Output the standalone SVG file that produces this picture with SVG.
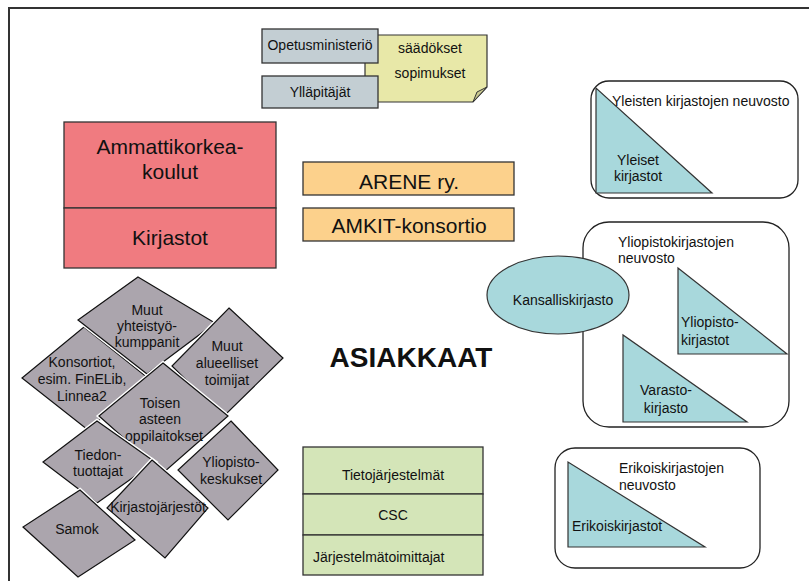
<svg xmlns="http://www.w3.org/2000/svg" width="809" height="581" viewBox="0 0 809 581">
<style>
text{font-family:"Liberation Sans",Arial,sans-serif;fill:#111;}
.s14{font-size:14px;}
.s21{font-size:21px;}
.m{text-anchor:middle;}
.box{stroke:#333;stroke-width:1.3;}
.gray{fill:#c3ced3;}
.pink{fill:#f07b80;}
.orange{fill:#fcd18c;}
.green{fill:#d4e5b8;}
.teal{fill:#a8d8dc;stroke:#333;stroke-width:1.2;}
.round{fill:#fff;stroke:#222;stroke-width:1.3;}
.halo{fill:none;stroke:#fff;stroke-width:4;stroke-linejoin:miter;}
.dia{fill:#aba5ad;stroke:#111;stroke-width:1.2;}
</style>
<rect width="809" height="581" fill="#fff"/>
<path d="M9,581 V8 H809" fill="none" stroke="#333" stroke-width="2"/>

<g id="note">
<polygon points="365,35 487,35 487,87 473,102 365,102" fill="#e8e8a8" stroke="#333" stroke-width="1.2"/>
<polygon points="473,102 477,92 487,87" fill="#c8c890" stroke="#333" stroke-width="1"/>
<text class="s14 m" x="430" y="53">säädökset</text>
<text class="s14 m" x="430" y="78">sopimukset</text>
</g>
<g id="opetusministerio">
<rect class="box gray" x="262" y="29" width="116" height="34"/>
<text class="s14 m" x="320" y="50">Opetusministeriö</text>
</g>
<g id="yllapitajat">
<rect class="box gray" x="262" y="76" width="116" height="32"/>
<text class="s14 m" x="320" y="97">Ylläpitäjät</text>
</g>

<g id="amk">
<rect class="box pink" x="64" y="122" width="212" height="86"/>
<text class="s21 m" x="170" y="154">Ammattikorkea-</text>
<text class="s21 m" x="170" y="179">koulut</text>
</g>
<g id="kirjastot">
<rect class="box pink" x="64" y="208" width="212" height="60"/>
<text class="s21 m" x="170" y="245">Kirjastot</text>
</g>

<g id="arene">
<rect class="box orange" x="303" y="162" width="211" height="33"/>
<text class="s21 m" x="409" y="189">ARENE ry.</text>
</g>
<g id="amkit">
<rect class="box orange" x="303" y="208" width="211" height="33"/>
<text class="s21 m" x="409" y="233">AMKIT-konsortio</text>
</g>

<g id="asiakkaat">
<text x="411" y="367" text-anchor="middle" font-size="28" font-weight="bold">ASIAKKAAT</text>
</g>

<g id="yleisten">
<rect class="round" x="591" y="81" width="207" height="117" rx="18"/>
<polygon class="teal" points="596,88 596,193 712,193"/>
<text class="s14" x="612" y="106">Yleisten kirjastojen neuvosto</text>
<text class="s14 m" x="638" y="165">Yleiset</text>
<text class="s14 m" x="638" y="181">kirjastot</text>
</g>

<g id="yliopistoneuvosto">
<rect class="round" x="583" y="222" width="206" height="205" rx="26"/>
<text class="s14" x="618" y="247">Yliopistokirjastojen</text>
<text class="s14" x="618" y="263">neuvosto</text>
</g>
<g id="kansalliskirjasto">
<ellipse cx="558" cy="295" rx="71" ry="39" fill="#a8d8dc" stroke="#333" stroke-width="1.2"/>
<text class="s14 m" x="563" y="305">Kansalliskirjasto</text>
</g>
<g id="yliopistokirjastot">
<polygon class="teal" points="678,268 678,354 787,354"/>
<text class="s14" x="681" y="327">Yliopisto-</text>
<text class="s14" x="681" y="345">kirjastot</text>
</g>
<g id="varastokirjasto">
<polygon class="teal" points="623,335 623,422 747,422"/>
<text class="s14 m" x="666" y="395">Varasto-</text>
<text class="s14 m" x="666" y="413">kirjasto</text>
</g>

<g id="erikois">
<rect class="round" x="555" y="448" width="205" height="120" rx="20"/>
<polygon class="teal" points="568,462 568,547 705,547"/>
<text class="s14" x="619" y="473">Erikoiskirjastojen</text>
<text class="s14" x="619" y="490">neuvosto</text>
<text class="s14" x="572" y="531">Erikoiskirjastot</text>
</g>

<g id="tietojarjestelmat">
<rect class="box green" x="303" y="447" width="180" height="47"/>
<text class="s14 m" x="393" y="480">Tietojärjestelmät</text>
</g>
<g id="csc">
<rect class="box green" x="303" y="494" width="180" height="41"/>
<text class="s14 m" x="393" y="520">CSC</text>
</g>
<g id="jarjestelmatoimittajat">
<rect class="box green" x="303" y="535" width="180" height="40"/>
<text class="s14" x="313" y="562">Järjestelmätoimittajat</text>
</g>

<g id="konsortiot">
<polygon class="halo" points="84,327 148,378 88,430 22,378"/>
<polygon class="dia" points="84,327 148,378 88,430 22,378"/>
<text class="s14 m" x="82" y="367">Konsortiot,</text>
<text class="s14 m" x="82" y="384">esim. FinELib,</text>
<text class="s14 m" x="82" y="401">Linnea2</text>
</g>
<g id="muutyhteistyo">
<polygon class="halo" points="138,277 215,323 147,374 78,320"/>
<polygon class="dia" points="138,277 215,323 147,374 78,320"/>
<text class="s14 m" x="147" y="315">Muut</text>
<text class="s14 m" x="147" y="331">yhteistyö-</text>
<text class="s14 m" x="147" y="347">kumppanit</text>
</g>
<g id="muutalueelliset">
<polygon class="halo" points="229,308 283,358 223,417 172,366"/>
<polygon class="dia" points="229,308 283,358 223,417 172,366"/>
<text class="s14 m" x="227" y="351">Muut</text>
<text class="s14 m" x="227" y="368">alueelliset</text>
<text class="s14 m" x="227" y="385">toimijat</text>
</g>
<g id="toisen">
<polygon class="halo" points="163,363 228,416 163,473 99,416"/>
<polygon class="dia" points="163,363 228,416 163,473 99,416"/>
<text class="s14 m" x="160" y="408">Toisen</text>
<text class="s14 m" x="160" y="424">asteen</text>
<text class="s14 m" x="164" y="441">oppilaitokset</text>
</g>
<g id="tiedontuottajat">
<polygon class="halo" points="97,421 155,462 97,503 43,462"/>
<polygon class="dia" points="97,421 155,462 97,503 43,462"/>
<text class="s14 m" x="98" y="460">Tiedon-</text>
<text class="s14 m" x="98" y="476">tuottajat</text>
</g>
<g id="yliopistokeskukset">
<polygon class="halo" points="231,421 278,470 228,520 178,470"/>
<polygon class="dia" points="231,421 278,470 228,520 178,470"/>
<text class="s14 m" x="231" y="467">Yliopisto-</text>
<text class="s14 m" x="231" y="484">keskukset</text>
</g>
<g id="samok">
<polygon class="halo" points="80,490 135,540 78,577 23,527"/>
<polygon class="dia" points="80,490 135,540 78,577 23,527"/>
<text class="s14 m" x="77" y="534">Samok</text>
</g>
<g id="kirjastojarjestot">
<polygon class="halo" points="152,460 208,508 165,558 107,508"/>
<polygon class="dia" points="152,460 208,508 165,558 107,508"/>
<text class="s14 m" x="158" y="512">Kirjastojärjestöt</text>
</g>

<g id="connectors"></g>
</svg>
